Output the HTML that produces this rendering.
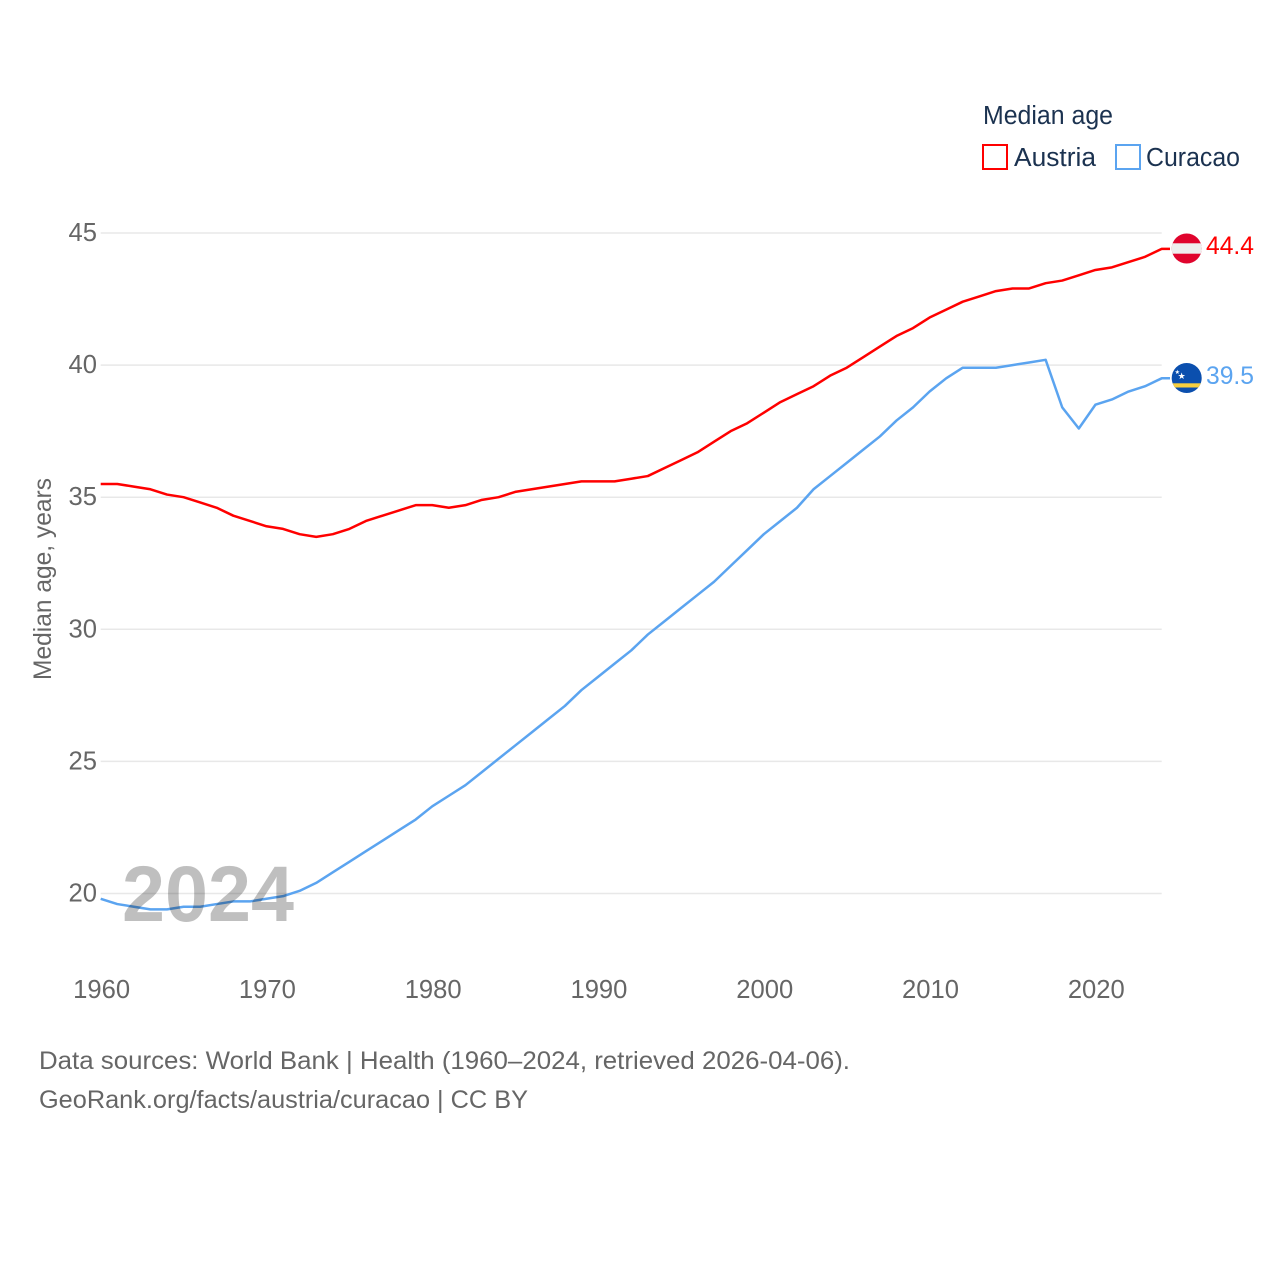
<!DOCTYPE html>
<html lang="en">
<head>
<meta charset="utf-8">
<title>Median age: Austria and Curacao</title>
<style>
html,body{margin:0;padding:0;background:#fff}
svg{display:block}
text{font-family:"Liberation Sans",sans-serif}
.tick{font-size:25.6px;fill:#666}
.src{font-size:25px;fill:#666}
.leg{font-size:25.5px;fill:#1b3250}
</style>
</head>
<body>
<svg id="chart" xmlns="http://www.w3.org/2000/svg" width="1280" height="1280" viewBox="0 0 1280 1280">
  <rect width="1280" height="1280" fill="#fff"/>
  <g id="grid"></g>
  <g id="yticks"></g>
  <g id="xticks"></g>
  <text transform="translate(51,680) rotate(-90)" font-size="25" fill="#666" textLength="202" lengthAdjust="spacingAndGlyphs">Median age, years</text>
  <g id="series"></g>
  <text id="year-label" x="122" y="921" font-size="79" font-weight="700" fill="#000" fill-opacity="0.25" textLength="172" lengthAdjust="spacingAndGlyphs">2024</text>

  <g>
    <text class="leg" x="983" y="124" textLength="130" lengthAdjust="spacingAndGlyphs">Median age</text>
    <rect x="983" y="145" width="24" height="24" fill="#fff" stroke="#ff0000" stroke-width="2"/>
    <text class="leg" x="1014" y="166" textLength="82" lengthAdjust="spacingAndGlyphs">Austria</text>
    <rect x="1116" y="145" width="24" height="24" fill="#fff" stroke="#5ba4f0" stroke-width="2"/>
    <text class="leg" x="1146" y="166" textLength="94" lengthAdjust="spacingAndGlyphs">Curacao</text>
  </g>

  <defs>
    <clipPath id="clip-at"><circle cx="1186.700" cy="248.500" r="15"/></clipPath>
    <clipPath id="clip-cw"><circle cx="1186.700" cy="378" r="15"/></clipPath>
  </defs>
  <g id="flag-austria" clip-path="url(#clip-at)">
    <rect x="1171" y="233" width="32" height="31" fill="#e0042d"/>
    <rect x="1171" y="243.300" width="32" height="10.400" fill="#eeeeee"/>
  </g>
  <g id="flag-curacao" clip-path="url(#clip-cw)">
    <rect x="1171" y="362" width="32" height="32" fill="#0b4fae"/>
    <rect x="1171" y="383.300" width="32" height="4.200" fill="#f7cf3f"/>
    <text x="1181.700" y="379" font-size="9" text-anchor="middle" fill="#fff">★</text>
    <text x="1177.300" y="374" font-size="6" text-anchor="middle" fill="#fff">★</text>
  </g>
  <text id="value-austria" x="1206" y="254" font-size="25" fill="#ff0000" textLength="48" lengthAdjust="spacingAndGlyphs">44.4</text>
  <text id="value-curacao" x="1206" y="384" font-size="25" fill="#5ba4f0" textLength="48" lengthAdjust="spacingAndGlyphs">39.5</text>

  <text class="src" x="39" y="1069" textLength="811" lengthAdjust="spacingAndGlyphs">Data sources: World Bank | Health (1960–2024, retrieved 2026-04-06).</text>
  <text class="src" x="39" y="1108" textLength="489" lengthAdjust="spacingAndGlyphs">GeoRank.org/facts/austria/curacao | CC BY</text>
</svg>
<script>
const years = [1960,1961,1962,1963,1964,1965,1966,1967,1968,1969,1970,1971,1972,1973,1974,1975,1976,1977,1978,1979,1980,1981,1982,1983,1984,1985,1986,1987,1988,1989,1990,1991,1992,1993,1994,1995,1996,1997,1998,1999,2000,2001,2002,2003,2004,2005,2006,2007,2008,2009,2010,2011,2012,2013,2014,2015,2016,2017,2018,2019,2020,2021,2022,2023,2024];
const austria = [35.5,35.5,35.4,35.3,35.1,35.0,34.8,34.6,34.3,34.1,33.9,33.8,33.6,33.5,33.6,33.8,34.1,34.3,34.5,34.7,34.7,34.6,34.7,34.9,35.0,35.2,35.3,35.4,35.5,35.6,35.6,35.6,35.7,35.8,36.1,36.4,36.7,37.1,37.5,37.8,38.2,38.6,38.9,39.2,39.6,39.9,40.3,40.7,41.1,41.4,41.8,42.1,42.4,42.6,42.8,42.9,42.9,43.1,43.2,43.4,43.6,43.7,43.9,44.1,44.4];
const curacao = [19.8,19.6,19.5,19.4,19.4,19.5,19.5,19.6,19.7,19.7,19.8,19.9,20.1,20.4,20.8,21.2,21.6,22.0,22.4,22.8,23.3,23.7,24.1,24.6,25.1,25.6,26.1,26.6,27.1,27.7,28.2,28.7,29.2,29.8,30.3,30.8,31.3,31.8,32.4,33.0,33.6,34.1,34.6,35.3,35.8,36.3,36.8,37.3,37.9,38.4,39.0,39.5,39.9,39.9,39.9,40.0,40.1,40.2,38.4,37.6,38.5,38.7,39.0,39.2,39.5];
const yTickValues = [20,25,30,35,40,45];
const xTickValues = [1960,1970,1980,1990,2000,2010,2020];

const NS = 'http://www.w3.org/2000/svg';
const xScale = function (v) { return 100.7 + (v - 1960) * (1161.7 - 100.7) / (2024 - 1960); };
const yScale = function (v) { return 893.5 - (v - 20) * (893.5 - 233) / (45 - 20); };

function make(tag, parent) {
  const el = document.createElementNS(NS, tag);
  parent.appendChild(el);
  return el;
}

const grid = document.getElementById('grid');
const yticks = document.getElementById('yticks');
const xticks = document.getElementById('xticks');
const series = document.getElementById('series');

yTickValues.forEach(function (v) {
  const line = make('line', grid);
  
  
  line.setAttribute('x1', xScale(1960));
  line.setAttribute('x2', xScale(2024));
  line.setAttribute('y1', yScale(v));
  line.setAttribute('y2', yScale(v));
  line.setAttribute('stroke', '#e8e8e8');
  line.setAttribute('stroke-width', '1.500');

  const label = make('text', yticks);
  
  
  label.setAttribute('class', 'tick');
  label.setAttribute('x', 97);
  label.setAttribute('y', yScale(v) + 8);
  label.setAttribute('text-anchor', 'end');
  label.textContent = String(v);
});

xTickValues.forEach(function (v) {
  const label = make('text', xticks);
  
  
  label.setAttribute('class', 'tick');
  label.setAttribute('x', xScale(v) + 0.9);
  label.setAttribute('y', 998);
  label.setAttribute('text-anchor', 'middle');
  label.textContent = String(v);
});

function drawLine(values, color) {
  const pts = values.map(function (v, i) { return xScale(years[i]).toFixed(2) + ',' + yScale(v).toFixed(2); });
  const lastY = yScale(values[values.length - 1]).toFixed(2);
  pts.push('1170,' + lastY);
  const line = make('polyline', series);
  line.setAttribute('points', pts.join(' '));
  line.setAttribute('fill', 'none');
  line.setAttribute('stroke', color);
  line.setAttribute('stroke-width', '2.500');
  line.setAttribute('stroke-linejoin', 'round');
  return line;
}

const austriaLine = drawLine(austria, '#ff0000');



const curacaoLine = drawLine(curacao, '#5ba4f0');



document.getElementById('value-austria').textContent = austria[austria.length - 1].toFixed(1);
document.getElementById('value-curacao').textContent = curacao[curacao.length - 1].toFixed(1);
document.getElementById('year-label').textContent = String(years[years.length - 1]);
</script>
</body>
</html>
